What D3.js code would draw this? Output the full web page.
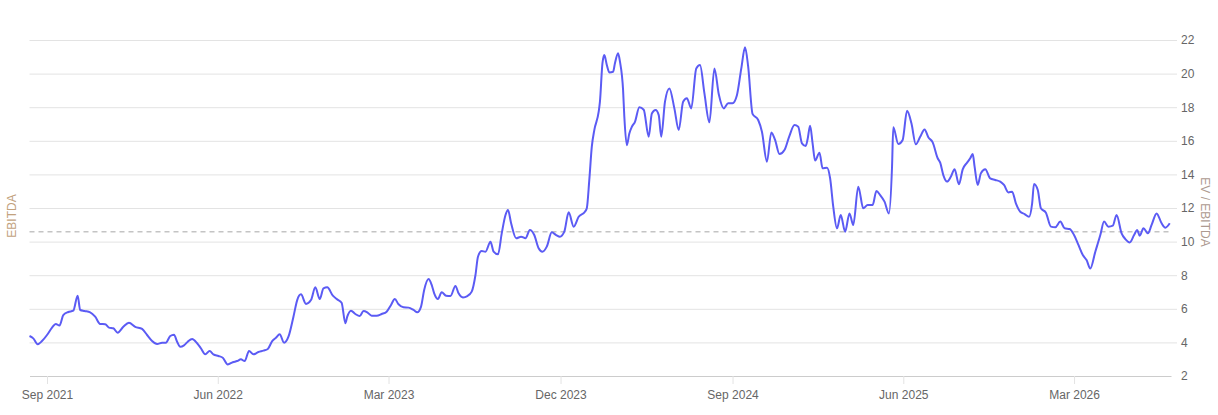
<!DOCTYPE html>
<html>
<head>
<meta charset="utf-8">
<script src="https://d3js.org/d3.v7.min.js"></script>
<style>
  html, body { margin: 0; padding: 0; background: #fff; }
  svg { display: block; font-family: "Liberation Sans", Arial, sans-serif; }
</style>
</head>
<body>
<svg id="chart"></svg>
<script>
  // EV / EBITDA readings (date, multiple)
  const dates = [
    "2021-08-04","2021-08-10","2021-08-17","2021-08-24","2021-09-01","2021-09-09","2021-09-15","2021-09-21","2021-09-27","2021-10-05",
    "2021-10-13","2021-10-20","2021-10-24","2021-10-31","2021-11-09","2021-11-17","2021-11-25","2021-12-03","2021-12-09","2021-12-16",
    "2021-12-23","2022-01-01","2022-01-10","2022-01-20","2022-01-31","2022-02-08","2022-02-16","2022-02-24","2022-03-04","2022-03-10",
    "2022-03-17","2022-03-23","2022-03-28","2022-04-02","2022-04-08","2022-04-14","2022-04-21","2022-04-29","2022-05-05","2022-05-12",
    "2022-05-19","2022-05-25","2022-06-02","2022-06-09","2022-06-17","2022-06-25","2022-07-02","2022-07-08","2022-07-14","2022-07-21",
    "2022-07-28","2022-08-05","2022-08-13","2022-08-20","2022-08-27","2022-09-02","2022-09-08","2022-09-15","2022-09-22","2022-09-30",
    "2022-10-06","2022-10-12","2022-10-20","2022-10-28","2022-11-04","2022-11-11","2022-11-17","2022-11-23","2022-12-02","2022-12-09",
    "2022-12-16","2022-12-22","2022-12-25","2022-12-31","2023-01-07","2023-01-14","2023-01-20","2023-01-26","2023-02-02","2023-02-10",
    "2023-02-18","2023-02-26","2023-03-05","2023-03-11","2023-03-17","2023-03-25","2023-04-02","2023-04-10","2023-04-16","2023-04-22",
    "2023-04-27","2023-05-04","2023-05-09","2023-05-13","2023-05-19","2023-05-25","2023-06-01","2023-06-08","2023-06-16","2023-06-21",
    "2023-06-28","2023-07-05","2023-07-12","2023-07-18","2023-07-22","2023-07-28","2023-08-03","2023-08-11","2023-08-16","2023-08-23",
    "2023-08-29","2023-09-04","2023-09-08","2023-09-13","2023-09-21","2023-09-29","2023-10-06","2023-10-13","2023-10-20","2023-10-27",
    "2023-11-02","2023-11-09","2023-11-17","2023-11-24","2023-11-30","2023-12-07","2023-12-14","2023-12-22","2023-12-30","2024-01-09",
    "2024-01-12","2024-01-16","2024-01-20","2024-01-24","2024-01-31","2024-02-02","2024-02-06","2024-02-09","2024-02-13","2024-02-17",
    "2024-02-23","2024-02-26","2024-03-02","2024-03-05","2024-03-10","2024-03-12","2024-03-16","2024-03-20","2024-03-24","2024-03-29",
    "2024-04-05","2024-04-12","2024-04-20","2024-04-25","2024-05-01","2024-05-06","2024-05-10","2024-05-16","2024-05-23","2024-05-31",
    "2024-06-07","2024-06-14","2024-06-20","2024-06-27","2024-07-05","2024-07-11","2024-07-18","2024-07-26","2024-08-03","2024-08-10",
    "2024-08-18","2024-08-25","2024-09-01","2024-09-08","2024-09-15","2024-09-21","2024-09-26","2024-10-03","2024-10-12","2024-10-18",
    "2024-10-26","2024-11-02","2024-11-08","2024-11-15","2024-11-23","2024-12-01","2024-12-09","2024-12-15","2024-12-21","2024-12-27",
    "2024-12-30","2025-01-03","2025-01-07","2025-01-11","2025-01-18","2025-01-23","2025-01-30","2025-02-04","2025-02-09","2025-02-15",
    "2025-02-21","2025-02-28","2025-03-07","2025-03-13","2025-03-21","2025-03-29","2025-04-05","2025-04-13","2025-04-19","2025-04-25",
    "2025-05-02","2025-05-09","2025-05-14","2025-05-16","2025-05-24","2025-05-31","2025-06-07","2025-06-14","2025-06-21","2025-06-28",
    "2025-07-05","2025-07-11","2025-07-18","2025-07-26","2025-07-30","2025-08-04","2025-08-10","2025-08-16","2025-08-22","2025-08-29",
    "2025-09-04","2025-09-11","2025-09-16","2025-09-20","2025-09-23","2025-09-28","2025-10-03","2025-10-10","2025-10-18","2025-10-26",
    "2025-11-03","2025-11-09","2025-11-16","2025-11-22","2025-11-28","2025-12-05","2025-12-12","2025-12-19","2025-12-24","2025-12-27",
    "2026-01-02","2026-01-07","2026-01-15","2026-01-23","2026-01-30","2026-02-07","2026-02-14","2026-02-22","2026-03-01","2026-03-08",
    "2026-03-15","2026-03-21","2026-03-27","2026-04-04","2026-04-12","2026-04-18","2026-04-25","2026-05-02","2026-05-08","2026-05-16",
    "2026-05-22","2026-05-29","2026-06-05","2026-06-10","2026-06-14","2026-06-20","2026-06-27","2026-07-03","2026-07-11","2026-07-19",
    "2026-07-25","2026-08-01"
  ];
  const values = [
    4.38,4.24,3.89,4.08,4.44,4.88,5.10,5.00,5.63,5.81,
    5.89,6.78,5.93,5.87,5.79,5.53,5.10,5.08,4.88,4.84,
    4.58,4.93,5.17,4.93,4.80,4.44,4.08,3.90,3.98,3.98,
    4.38,4.46,4.04,3.74,3.82,4.04,4.20,3.95,3.65,3.29,
    3.49,3.29,3.19,3.09,2.69,2.82,2.89,2.99,2.89,3.49,
    3.29,3.43,3.51,3.61,4.08,4.28,4.48,3.98,4.34,5.53,
    6.52,6.86,6.29,6.52,7.28,6.58,7.22,7.28,6.78,6.56,
    6.36,5.14,5.53,5.89,5.69,5.57,5.87,5.79,5.59,5.59,
    5.69,5.83,6.23,6.58,6.27,6.09,6.07,5.93,5.79,6.13,
    7.12,7.77,7.42,6.92,6.58,6.98,6.78,6.76,7.36,6.92,
    6.68,6.76,7.02,8.01,9.10,9.44,9.40,9.99,9.40,9.24,
    10.49,11.58,11.88,11.09,10.20,10.29,10.20,10.69,10.39,9.60,
    9.40,9.70,10.55,10.39,10.29,10.59,11.74,10.89,11.48,11.78,
    11.98,13.67,15.65,16.64,17.73,18.33,20.61,21.10,20.51,20.07,
    20.11,20.61,21.21,20.71,19.02,17.43,15.74,16.43,16.83,17.13,
    18.00,17.85,16.24,17.63,17.83,17.53,16.24,18.33,19.12,17.93,
    16.64,18.33,18.53,17.93,20.31,20.51,18.84,17.10,20.31,18.77,
    17.93,18.23,18.23,18.71,20.31,21.57,20.41,17.60,17.24,16.54,
    14.76,16.50,16.05,15.21,15.45,16.30,16.94,16.84,15.85,15.69,
    16.09,16.90,15.85,14.82,15.29,14.36,14.40,13.77,12.08,10.79,
    11.58,10.59,11.68,10.99,13.27,11.98,12.18,12.18,13.01,12.77,
    12.38,11.68,14.46,16.80,15.81,16.05,17.79,17.04,15.79,16.24,
    16.68,16.21,15.91,14.96,14.70,13.96,13.57,13.86,14.30,13.41,
    14.30,14.70,14.96,15.21,14.46,13.37,14.06,14.30,13.76,13.67,
    13.57,13.37,12.93,12.97,12.28,11.78,11.64,11.48,12.28,13.43,
    13.07,11.98,11.72,10.89,10.85,11.19,10.79,10.75,10.39,9.80,
    9.20,8.90,8.40,9.40,10.39,11.19,10.89,10.95,11.58,10.49,
    10.15,9.95,10.39,10.69,10.35,10.79,10.49,10.99,11.68,11.09,
    10.83,11.09
  ];
  const average = 10.59;
  const yTicks = [2, 4, 6, 8, 10, 12, 14, 16, 18, 20, 22];
  const xTicks = ["2021-09-01", "2022-06-01", "2023-03-01", "2023-12-01", "2024-09-01", "2025-06-01", "2026-03-01"];

  const width = 1218, height = 415;
  const plotLeft = 29.5, plotRight = 1171, plotTop = 40, plotBottom = 376;

  const parse = d3.utcParse("%Y-%m-%d");
  const data = dates.map((d, i) => ({ date: parse(d), value: values[i] }));

  const svg = d3.select("#chart")
    .attr("width", width)
    .attr("height", height);

  const x = d3.scaleUtc()
    .domain([parse("2021-08-04"), parse("2026-08-03")])
    .range([plotLeft, plotRight]);

  const y = d3.scaleLinear()
    .domain([2, 22])
    .range([plotBottom, plotTop]);

  // gridlines + right tick labels
  const yAxis = svg.append("g")
    .attr("transform", `translate(${plotRight + 6},0)`)
    .call(d3.axisRight(y).tickValues(yTicks).tickSize(0).tickPadding(4));
  yAxis.select(".domain").remove();
  yAxis.selectAll(".tick line")
    .attr("x1", plotLeft - plotRight - 6)
    .attr("x2", 0)
    .attr("stroke", d => d === 2 ? "none" : "#e3e3e3");
  yAxis.selectAll(".tick text")
    .attr("fill", "#666")
    .style("font-size", "12px");

  // bottom axis
  const xAxis = svg.append("g")
    .attr("transform", `translate(0,${plotBottom})`)
    .call(d3.axisBottom(x)
      .tickValues(xTicks.map(parse))
      .tickFormat(d3.utcFormat("%b %Y"))
      .tickSize(8)
      .tickSizeOuter(0)
      .tickPadding(6));
  xAxis.select(".domain").attr("stroke", "#ccc");
  xAxis.selectAll(".tick line").attr("stroke", "#e3e3e3");
  xAxis.selectAll(".tick text")
    .attr("fill", "#666")
    .style("font-size", "12px");

  // average line
  svg.append("line")
    .attr("x1", plotLeft)
    .attr("x2", plotRight)
    .attr("y1", y(average))
    .attr("y2", y(average))
    .attr("stroke", "#c4c4c4")
    .attr("stroke-width", 1.5)
    .attr("stroke-dasharray", "5,4");

  // the series
  const line = d3.line()
    .x(d => x(d.date))
    .y(d => y(d.value))
    .curve(d3.curveMonotoneX);

  svg.append("path")
    .datum(data)
    .attr("fill", "none")
    .attr("stroke", "#5b5bf4")
    .attr("stroke-width", 2)
    .attr("stroke-linejoin", "round")
    .attr("d", line);

  // axis titles
  svg.append("text")
    .attr("transform", `translate(16,${(plotTop + plotBottom) / 2 + 8}) rotate(-90)`)
    .attr("text-anchor", "middle")
    .attr("fill", "#c2a27e")
    .style("font-size", "12px")
    .text("EBITDA");

  svg.append("text")
    .attr("transform", `translate(1201,${(plotTop + plotBottom) / 2 + 4}) rotate(90)`)
    .attr("text-anchor", "middle")
    .attr("fill", "#ad9a90")
    .style("font-size", "12px")
    .text("EV / EBITDA");
</script>
</body>
</html>
